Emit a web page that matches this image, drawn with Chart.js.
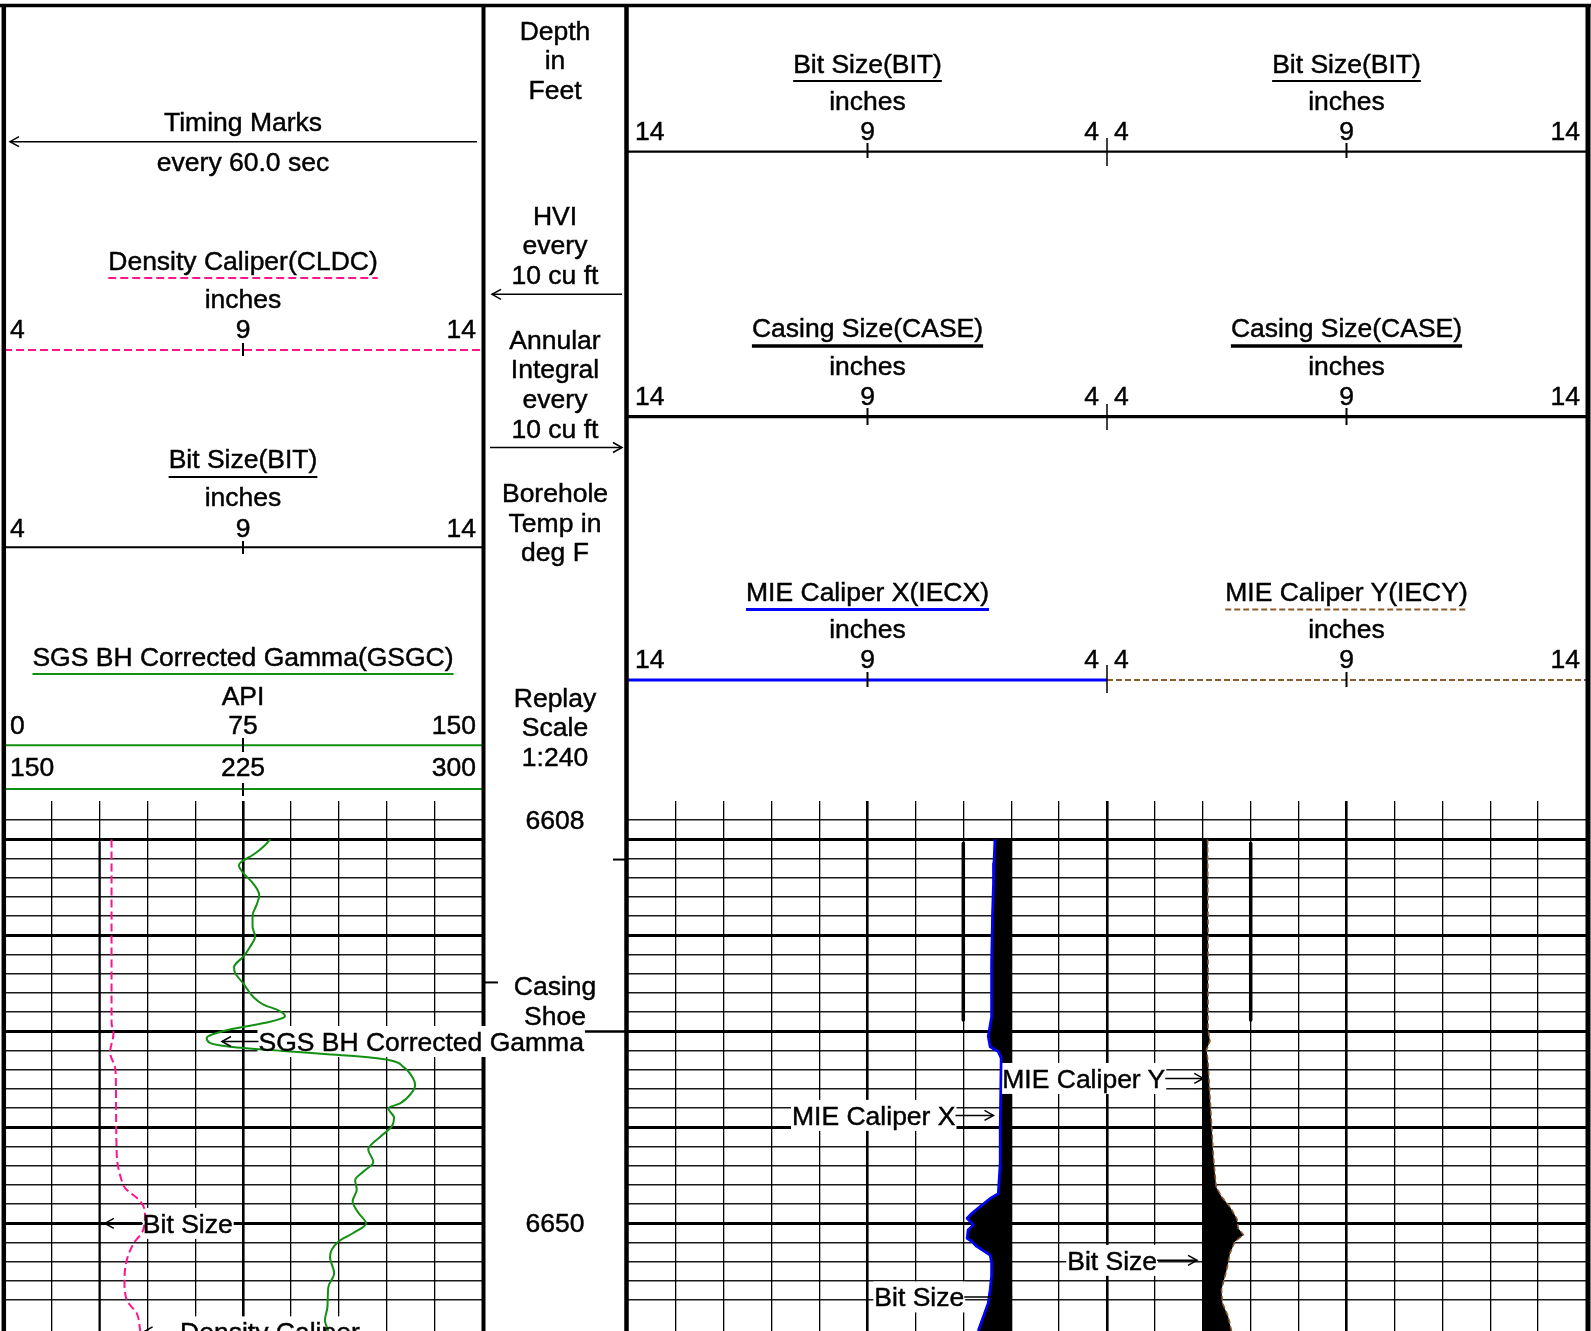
<!DOCTYPE html>
<html><head><meta charset="utf-8">
<script src="https://cdn.jsdelivr.net/npm/chart.js@4.4.1/dist/chart.umd.min.js"></script>
<style>
html,body{margin:0;padding:0;background:#fff;}
#page{position:relative;width:1591px;height:1331px;overflow:hidden;background:#fff;}
#wrapL{position:absolute;left:4px;top:801px;width:478px;height:530px;}
#wrapR{position:absolute;left:628px;top:801px;width:958px;height:530px;}
#ov{position:absolute;left:0;top:0;}
</style></head><body>
<div id="page">
  <div id="wrapL"><canvas id="cL" width="478" height="530"></canvas></div>
  <div id="wrapR"><canvas id="cR" width="958" height="530"></canvas></div>
  <svg id="ov" width="1591" height="1331" xmlns="http://www.w3.org/2000/svg"></svg>
</div>
<script>
// ================= DATA =================
const gammaDepthFt = [6610,6610.6,6611.6,6612.3,6612.7,6613.5,6614.6,6615.8,6616.8,6617.9,6619.1,6620.1,6621.2,6622.2,6623.3,6623.9,6625,6626.4,6627.2,6627.8,6628.4,6629,6629.8,6630.7,6631.2,6631.6,6632.1,6632.6,6633,6633.7,6634.9,6635.6,6636.4,6637.5,6638,6639,6639.9,6641,6642.3,6643.6,6644.6,6645.5,6646.5,6647.7,6648.9,6650,6651,6651.9,6653.5,6655.2,6656.6,6658.7,6660.1,6661.2];
const gammaApi = [83.5,81.9,78.2,74.6,73.7,75.1,78.2,80.1,79.3,78,78,78.8,77.2,75.1,72.2,72.5,75.1,78.2,81.4,86.1,88.2,83.5,70.9,63.6,64.6,70.9,89.7,110.7,121.1,125.3,128.4,129,127.9,124.3,120.6,122.4,121.7,118,114.3,115.9,112.8,110.2,110.7,109.4,111.2,113.6,109.6,104.9,102.3,103.6,101.8,101.5,100.7,101.8];

const densityCalDepthFt = [6610,6624,6629.1,6630.2,6632.2,6633.7,6635.1,6643,6645.5,6646.3,6647.7,6648.9,6650.7,6652.1,6653.8,6655.9,6658,6659.4,6661.2];
const densityCalInches = [6.25,6.25,6.25,6.29,6.22,6.32,6.34,6.36,6.46,6.53,6.85,6.95,6.91,6.71,6.57,6.52,6.57,6.78,6.85];

const mieXDepthFt = [6610,6612.5,6614.6,6617.7,6622.9,6627.8,6628.5,6630.5,6631.6,6632.1,6632.8,6640.3,6643.7,6646.9,6647.4,6648.25,6648.94,6649.46,6650.16,6650.68,6651.55,6651.9,6652.4,6653.3,6654.1,6655.5,6656.9,6658.3,6659.7,6661.2];
const mieXInches = [6.34,6.36,6.37,6.39,6.41,6.41,6.41,6.48,6.44,6.27,6.21,6.23,6.23,6.27,6.44,6.65,6.82,6.92,6.79,6.9,6.92,6.82,6.72,6.44,6.41,6.41,6.44,6.48,6.58,6.69];

const mieYDepthFt = [6610,6619.4,6629.8,6631,6631.9,6633.3,6636.8,6640.3,6643,6646.2,6647.2,6648.3,6649.5,6650.5,6651.2,6651.9,6653.1,6654.8,6656.9,6658.3,6659.7,6661.2];
const mieYInches = [6.10,6.11,6.11,6.15,6.08,6.11,6.15,6.19,6.22,6.28,6.39,6.57,6.71,6.74,6.85,6.67,6.57,6.5,6.39,6.41,6.53,6.6];

const bitSizeInches = 6;
const bitDepthFt = [6610.3, 6661.2];
const casingSizeInches = 7;
const casingDepthFt = [6610.4, 6628.8];

const depthLabelFt = [6608, 6650];
const hviMarkFt = [6624.9];
const annularMarkFt = [6612.1];
const annularMajorMarkFt = [6630];

const inchLabels = ['4','9','14'];
const inchLabelsReversed = ['14','9','4'];
const gammaLabels = ['0','75','150'];
const gammaBackupLabels = ['150','225','300'];

// ================= CONFIG =================
const FONT = '"Liberation Sans", Arial, sans-serif';
const FS = 26.5;
const GREEN = '#119011', PINK = '#ff148c', BLUE = '#0000ff', BROWN = '#8b5a2b';
const Y_MIN = 6606, Y_MAX = 6606 + 530 / 9.6;

const pts = (ds, vs) => ds.map((d, i) => ({ x: vs[i], y: d }));

function depthScale() {
  return {
    type: 'linear', position: 'left', reverse: true, min: Y_MIN, max: Y_MAX,
    afterFit(s) { s.width = 0; },
    border: { display: false },
    ticks: { display: false, stepSize: 2, autoSkip: false },
    grid: {
      drawTicks: false,
      color: c => gridY(c.tick.value).c,
      lineWidth: c => gridY(c.tick.value).w
    }
  };
}
function gridY(v) {
  const n = Math.round(v);
  if (Math.abs(v - n) > 0.01 || n === Y_MIN) return { c: 'rgba(0,0,0,0)', w: 0 };
  if (n % 10 === 0) return { c: '#000', w: 3 };
  if (n % 2 === 0) return { c: '#1a1a1a', w: 1.5 };
  return { c: 'rgba(0,0,0,0)', w: 0 };
}
function inchGrid(thick, edges) {
  return {
    drawTicks: false,
    color: c => edges.includes(Math.round(c.tick.value)) ? 'rgba(0,0,0,0)' : '#000',
    lineWidth: c => thick.includes(Math.round(c.tick.value)) ? 2.6 : 1.3
  };
}

const washoutFill = {
  id: 'washoutFill',
  beforeDatasetsDraw(chart, args, opts) {
    if (!opts || !opts.pairs) return;
    const { ctx, chartArea: a } = chart; const ys = chart.scales.y;
    ctx.save(); ctx.beginPath(); ctx.rect(a.left, a.top, a.right - a.left, a.bottom - a.top); ctx.clip();
    ctx.fillStyle = '#000';
    opts.pairs.forEach(p => {
      const xs = chart.scales[p.scale]; const data = chart.data.datasets[p.dataset].data;
      const bx = xs.getPixelForValue(p.bit);
      ctx.beginPath();
      ctx.moveTo(bx, ys.getPixelForValue(data[0].y));
      data.forEach(d => ctx.lineTo(xs.getPixelForValue(d.x), ys.getPixelForValue(d.y)));
      ctx.lineTo(bx, ys.getPixelForValue(data[data.length - 1].y));
      ctx.closePath(); ctx.fill();
    });
    ctx.restore();
  }
};

function annotGeom(chart, an, w) {
  const tip = chart.scales[an.scale].getPixelForValue(an.value);
  const yc = chart.scales.y.getPixelForValue(an.depth);
  const textX = an.dir < 0 ? tip + an.gap : tip - an.gap;
  const x0 = an.dir < 0 ? textX - 1 : textX - w - 1;
  return { tip, yc, textX, x0, y0: yc - 15.5, w: w + 2, h: 31 };
}
const annotBoxes = {
  id: 'annotBoxes',
  beforeDatasetsDraw(chart, args, opts) {
    const list = (opts && opts.items) || [];
    const ctx = chart.ctx;
    ctx.save(); ctx.font = FS + 'px ' + FONT; ctx.fillStyle = '#fff';
    list.forEach(an => { const g = annotGeom(chart, an, ctx.measureText(an.text).width); ctx.fillRect(g.x0, g.y0, g.w, g.h); });
    ctx.restore();
  }
};

const annotationsLeft = [
  { text: 'SGS BH Corrected Gamma', depth: 6631.05, scale: 'xgr', value: 68.4, gap: 36.5, dir: -1 },
  { text: 'Bit Size', depth: 6650, scale: 'xin', value: 6.11, gap: 38, dir: -1 },
  { text: 'Density Caliper', depth: 6661.3, scale: 'xin', value: 6.92, gap: 36.5, dir: -1 }
];
const annotationsRight = [
  { text: 'MIE Caliper Y', depth: 6634.9, scale: 'xr', value: 6.01, gap: 38, dir: 1 },
  { text: 'MIE Caliper X', depth: 6638.75, scale: 'xl', value: 6.37, gap: 38, dir: 1 },
  { text: 'Bit Size', depth: 6653.85, scale: 'xr', value: 5.88, gap: 40, dir: 1 },
  { text: 'Bit Size', depth: 6657.66, scale: 'xl', value: 6.0, gap: 47, dir: 1 }
];

const baseOptions = () => ({
  indexAxis: 'y', responsive: false, animation: false, events: [],
  layout: { padding: 0 },
  elements: { point: { radius: 0 }, line: { borderJoinStyle: 'round', borderCapStyle: 'butt' } },
});

const chartL = new Chart(document.getElementById('cL'), {
  type: 'line',
  data: { datasets: [
    { label: 'Bit Size(BIT)', data: pts(bitDepthFt, bitDepthFt.map(() => bitSizeInches)), xAxisID: 'xin', yAxisID: 'y', borderColor: '#000', borderWidth: 2.2, tension: 0 },
    { label: 'Density Caliper(CLDC)', data: pts(densityCalDepthFt, densityCalInches), xAxisID: 'xin', yAxisID: 'y', borderColor: PINK, borderWidth: 2, borderDash: [8, 4], cubicInterpolationMode: 'monotone' },
    { label: 'SGS BH Corrected Gamma(GSGC)', data: pts(gammaDepthFt, gammaApi), xAxisID: 'xgr', yAxisID: 'y', borderColor: GREEN, borderWidth: 2, cubicInterpolationMode: 'monotone' }
  ]},
  options: Object.assign(baseOptions(), {
    scales: {
      y: depthScale(),
      xin: { type: 'linear', position: 'bottom', min: 4, max: 14, afterFit(s) { s.height = 0; }, border: { display: false },
             ticks: { display: false, stepSize: 1 }, grid: inchGrid([9], [4, 14]) },
      xgr: { type: 'linear', display: false, min: 0, max: 150 }
    },
    plugins: { legend: { display: false }, tooltip: { enabled: false }, annotBoxes: { items: annotationsLeft } }
  }),
  plugins: [annotBoxes]
});

const chartR = new Chart(document.getElementById('cR'), {
  type: 'line',
  data: { datasets: [
    { label: 'MIE Caliper X(IECX)', data: pts(mieXDepthFt, mieXInches), xAxisID: 'xl', yAxisID: 'y', borderColor: BLUE, borderWidth: 2.7, tension: 0 },
    { label: 'MIE Caliper Y(IECY)', data: pts(mieYDepthFt, mieYInches), xAxisID: 'xr', yAxisID: 'y', borderColor: BROWN, borderWidth: 1.6, borderDash: [5, 3], tension: 0 },
    { label: 'Casing Size(CASE)', data: pts(casingDepthFt, casingDepthFt.map(() => casingSizeInches)), xAxisID: 'xl', yAxisID: 'y', borderColor: '#000', borderWidth: 3.5 },
    { label: 'Casing Size(CASE) ', data: pts(casingDepthFt, casingDepthFt.map(() => casingSizeInches)), xAxisID: 'xr', yAxisID: 'y', borderColor: '#000', borderWidth: 3.5 }
  ]},
  options: Object.assign(baseOptions(), {
    scales: {
      y: depthScale(),
      xl: { type: 'linear', position: 'bottom', min: -6, max: 14, reverse: true, afterFit(s) { s.height = 0; }, border: { display: false },
            ticks: { display: false, stepSize: 1 }, grid: inchGrid([9, 4, -1], [-6, 14]) },
      xr: { type: 'linear', display: false, min: -6, max: 14 }
    },
    plugins: { legend: { display: false }, tooltip: { enabled: false },
      washoutFill: { pairs: [ { dataset: 0, scale: 'xl', bit: bitSizeInches }, { dataset: 1, scale: 'xr', bit: bitSizeInches } ] },
      annotBoxes: { items: annotationsRight } }
  }),
  plugins: [washoutFill, annotBoxes]
});

// ================= OVERLAY (header, borders, labels) =================
const NS = 'http://www.w3.org/2000/svg';
const svg = document.getElementById('ov');
function el(tag, attrs) { const e = document.createElementNS(NS, tag); for (const k in attrs) e.setAttribute(k, attrs[k]); svg.appendChild(e); return e; }
function line(x1, y1, x2, y2, w, c, dash) { const a = { x1, y1, x2, y2, stroke: c || '#000', 'stroke-width': w || 1.5 }; if (dash) a['stroke-dasharray'] = dash; return el('line', a); }
function text(s, x, y, anchor) { const t = el('text', { x, y, 'text-anchor': anchor || 'middle', 'font-family': FONT, 'font-size': FS + 'px', fill: '#000', stroke: '#000', 'stroke-width': 0.45 }); t.textContent = s; return t; }
function title(s, cx, base, uy, uw, uc, dash) { const t = text(s, cx, base); const w = t.getComputedTextLength(); line(cx - w / 2, uy, cx + w / 2, uy, uw, uc, dash); }
function row(labels, xa, xc, xb, base) { text(labels[0], xa, base, 'start'); text(labels[1], xc, base); text(labels[2], xb, base, 'end'); }
function head(x, y, dir) { el('polyline', { points: `${x - dir * 9},${y - 5} ${x},${y} ${x - dir * 9},${y + 5}`, fill: 'none', stroke: '#000', 'stroke-width': 1.5 }); }

const wl = document.getElementById('wrapL'), wr = document.getElementById('wrapR');
const oL = { x: wl.offsetLeft, y: wl.offsetTop }, oR = { x: wr.offsetLeft, y: wr.offsetTop };
const trackL = { a: oL.x, b: oL.x + chartL.width };
const trackR = { a: oR.x, b: oR.x + chartR.width };
const depthPx = d => oL.y + chartL.scales.y.getPixelForValue(d);
const cL9 = oL.x + chartL.scales.xin.getPixelForValue(9);
const cR9L = oR.x + chartR.scales.xl.getPixelForValue(9);
const cRmid = oR.x + chartR.scales.xl.getPixelForValue(4);
const cR9R = oR.x + chartR.scales.xr.getPixelForValue(9);
const depthMid = (trackL.b + trackR.a) / 2;

// --- left track header
text('Timing Marks', cL9, 131);
line(trackL.a + 6, 141.7, trackL.b - 5, 141.7, 1.5); head(trackL.a + 6, 141.7, -1);
text('every 60.0 sec', cL9, 171);
title('Density Caliper(CLDC)', cL9, 269.5, 278, 2, PINK, '8 4');
text('inches', cL9, 308);
row(inchLabels, trackL.a + 6, cL9, trackL.b - 6, 338);
line(trackL.a, 350, trackL.b, 350, 2, PINK, '8 4'); line(cL9, 343, cL9, 356, 2);
title('Bit Size(BIT)', cL9, 468, 477, 2, '#000');
text('inches', cL9, 506);
row(inchLabels, trackL.a + 6, cL9, trackL.b - 6, 537);
line(trackL.a, 547.3, trackL.b, 547.3, 2); line(cL9, 541, cL9, 554, 2);
title('SGS BH Corrected Gamma(GSGC)', cL9, 666, 674, 2, GREEN);
text('API', cL9, 705);
row(gammaLabels, trackL.a + 6, cL9, trackL.b - 6, 734);
line(trackL.a, 745.3, trackL.b, 745.3, 2, GREEN); line(cL9, 738, cL9, 752, 2);
row(gammaBackupLabels, trackL.a + 6, cL9, trackL.b - 6, 776);
line(trackL.a, 789, trackL.b, 789, 2, GREEN); line(cL9, 783, cL9, 796, 2);

// --- depth track header
[['Depth', 39.5], ['in', 69.2], ['Feet', 98.9],
 ['HVI', 224.5], ['every', 254.2], ['10 cu ft', 283.9],
 ['Annular', 348.5], ['Integral', 378.2], ['every', 407.9], ['10 cu ft', 437.6],
 ['Borehole', 502], ['Temp in', 531.7], ['deg F', 561.4],
 ['Replay', 706.5], ['Scale', 736.2], ['1:240', 765.9],
 ['Casing', 995], ['Shoe', 1024.7]].forEach(([s, y]) => text(s, depthMid, y));
line(trackL.b + 10, 294.3, trackR.a - 6, 294.3, 1.5); head(trackL.b + 10, 294.3, -1);
line(trackL.b + 8, 447.5, trackR.a - 6, 447.5, 1.5); head(trackR.a - 6, 447.5, 1);
depthLabelFt.forEach(d => text(String(d), depthMid, depthPx(d) + 8.5));
hviMarkFt.forEach(d => line(trackL.b + 2, depthPx(d), trackL.b + 16, depthPx(d), 2));
annularMarkFt.forEach(d => line(trackR.a - 15, depthPx(d), trackR.a, depthPx(d), 2));
annularMajorMarkFt.forEach(d => line(trackR.a - 44, depthPx(d), trackR.a, depthPx(d), 2.5));

// --- right track header
function rightRows(base) {
  row(inchLabelsReversed, trackR.a + 7, cR9L, cRmid - 8, base);
  row(inchLabels, cRmid + 7, cR9R, trackR.b - 6, base);
}
title('Bit Size(BIT)', cR9L, 72.5, 81, 2.2, '#000');
title('Bit Size(BIT)', cR9R, 72.5, 81, 2.2, '#000');
text('inches', cR9L, 110); text('inches', cR9R, 110);
rightRows(140);
line(trackR.a, 151.7, trackR.b, 151.7, 2.2);
line(cR9L, 143, cR9L, 158, 2); line(cR9R, 143, cR9R, 158, 2); line(cRmid, 138, cRmid, 166, 1.5);

title('Casing Size(CASE)', cR9L, 336.5, 346, 3.5, '#000');
title('Casing Size(CASE)', cR9R, 336.5, 346, 3.5, '#000');
text('inches', cR9L, 375); text('inches', cR9R, 375);
rightRows(405);
line(trackR.a, 416.7, trackR.b, 416.7, 3.2);
line(cR9L, 408, cR9L, 425, 2); line(cR9R, 408, cR9R, 425, 2); line(cRmid, 404, cRmid, 430, 1.5);

title('MIE Caliper X(IECX)', cR9L, 600.5, 609.5, 3, BLUE);
title('MIE Caliper Y(IECY)', cR9R, 600.5, 609.5, 1.8, BROWN, '6 3');
text('inches', cR9L, 638); text('inches', cR9R, 638);
rightRows(668);
line(trackR.a, 680, cRmid, 680, 3, BLUE);
line(cRmid, 680, trackR.b, 680, 1.8, BROWN, '6 3');
line(cR9L, 672, cR9L, 687, 2); line(cR9R, 672, cR9R, 687, 2); line(cRmid, 665, cRmid, 693, 1.5);

// --- borders
line(0, 5.5, 1591, 5.5, 3.5);
line(3.8, 4, 3.8, 1331, 4.5);
line(trackL.b + 1.5, 4, trackL.b + 1.5, 1331, 4);
line(trackR.a - 1.5, 4, trackR.a - 1.5, 1331, 4.5);
line(trackR.b + 2, 4, trackR.b + 2, 1331, 5);

// --- curve annotations (text, arrows; box parts outside the track)
function drawAnnots(chart, off, track, list) {
  list.forEach(an => {
    const t = text(an.text, 0, 0, an.dir < 0 ? 'start' : 'end');
    const w = t.getComputedTextLength();
    const g = annotGeom(chart, an, w);
    const tx = off.x + g.textX, y = off.y + g.yc, tip = off.x + g.tip;
    const bx0 = off.x + g.x0, bx1 = bx0 + g.w;
    if (bx1 > track.b) {
      const r = document.createElementNS(NS, 'rect');
      r.setAttribute('x', track.b - 1.5); r.setAttribute('y', off.y + g.y0);
      r.setAttribute('width', bx1 - track.b + 1.5); r.setAttribute('height', g.h); r.setAttribute('fill', '#fff');
      svg.insertBefore(r, t);
    }
    t.setAttribute('x', tx); t.setAttribute('y', y + 9.3);
    line(tip, y, tx, y, 1.5); head(tip, y, an.dir);
  });
}
drawAnnots(chartL, oL, trackL, annotationsLeft);
drawAnnots(chartR, oR, trackR, annotationsRight);
</script>
</body></html>
